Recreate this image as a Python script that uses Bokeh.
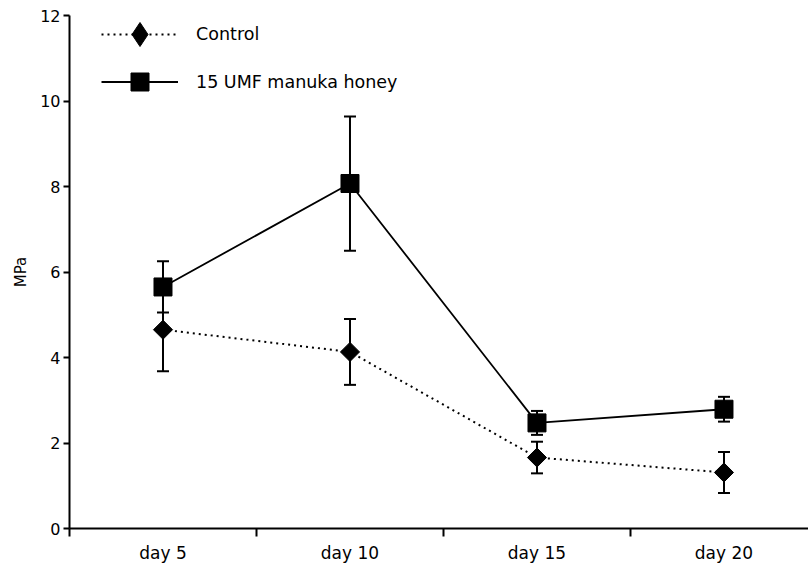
import numpy as np
from bokeh.plotting import figure
from bokeh.models import (ColumnDataSource, FixedTicker, Whisker, TeeHead,
                          Legend, LegendItem, Range1d)
from bokeh.embed import file_html
from bokeh.resources import INLINE

# ---- data ----
days = ["day 5", "day 10", "day 15", "day 20"]
control_mean = [4.65, 4.13, 1.66, 1.31]
control_err = [0.97, 0.77, 0.37, 0.48]
honey_mean = [5.65, 8.07, 2.47, 2.79]
honey_err = [0.60, 1.57, 0.28, 0.29]
y_ticks = [0, 2, 4, 6, 8, 10, 12]

FONT = "DejaVu Sans"

x = [i + 0.5 for i in range(len(days))]
src_c = ColumnDataSource(dict(
    x=x, y=control_mean,
    upper=[m + e for m, e in zip(control_mean, control_err)],
    lower=[m - e for m, e in zip(control_mean, control_err)]))
src_h = ColumnDataSource(dict(
    x=x, y=honey_mean,
    upper=[m + e for m, e in zip(honey_mean, honey_err)],
    lower=[m - e for m, e in zip(honey_mean, honey_err)]))

p = figure(width=808, height=565, output_backend="svg", toolbar_location=None,
           x_range=Range1d(0, 3.952), y_range=Range1d(0, 12),
           min_border_left=69, min_border_top=15, min_border_right=0,
           min_border_bottom=35)
p.outline_line_color = None
p.grid.visible = False
p.background_fill_color = "white"

# lines
lc = p.line("x", "y", source=src_c, line_color="black", line_width=2,
            line_dash="2 4")
lh = p.line("x", "y", source=src_h, line_color="black", line_width=1.8)

# error bars
for src in (src_c, src_h):
    w = Whisker(source=src, base="x", upper="upper", lower="lower",
                line_color="black", line_width=2,
                upper_head=TeeHead(size=12, line_width=2, line_color="black"),
                lower_head=TeeHead(size=12, line_width=2, line_color="black"))
    p.add_layout(w)

# control markers: rotated squares (diamonds) for the plot
sc = p.scatter("x", "y", source=src_c, marker="square", angle=np.pi / 4,
               size=13.5, color="black")
# diamond marker drawn inside the rotated squares; used as the legend swatch
sc_key = p.scatter("x", "y", source=src_c, marker="diamond", size=17,
                   color="black")
sh = p.scatter("x", "y", source=src_h, marker="square", size=18, color="black")

# axes
xa = p.xaxis[0]
xa.ticker = FixedTicker(ticks=x, minor_ticks=list(range(len(days))))
xa.major_label_overrides = {xv: d for xv, d in zip(x, days)}
xa.major_tick_out = 0
xa.major_tick_in = 0
xa.minor_tick_out = 8
xa.minor_tick_in = 0
xa.minor_tick_line_width = 2
xa.axis_line_width = 2
xa.major_label_standoff = 6
xa.major_label_text_font = FONT
xa.major_label_text_font_size = "17px"
xa.major_label_text_color = "black"

ya = p.yaxis[0]
ya.ticker = FixedTicker(ticks=y_ticks)
ya.major_tick_out = 6
ya.major_tick_in = 0
ya.major_tick_line_width = 2
ya.minor_tick_out = 0
ya.minor_tick_in = 0
ya.axis_line_width = 2
ya.major_label_standoff = 3
ya.major_label_text_font = FONT
ya.major_label_text_font_size = "16px"
ya.major_label_text_color = "black"
ya.axis_label = "MPa"
ya.axis_label_text_font = FONT
ya.axis_label_text_font_size = "15px"
ya.axis_label_text_font_style = "normal"
ya.axis_label_text_color = "black"
ya.axis_label_standoff = 7

# legends
def make_legend(label, renderers, gh, loc):
    lg = Legend(items=[LegendItem(label=label, renderers=renderers)],
                location=loc, glyph_width=77, glyph_height=gh,
                padding=0, margin=0, label_standoff=18, spacing=0,
                background_fill_alpha=0, border_line_alpha=0,
                label_text_font=FONT, label_text_font_size="17.5px",
                label_text_color="black")
    p.add_layout(lg)

make_legend("Control", [lc, sc_key], 60, (32, 464))
make_legend("15 UMF manuka honey", [lh, sh], 45, (32, 424))

open("out.html", "w").write(file_html(p, INLINE))
